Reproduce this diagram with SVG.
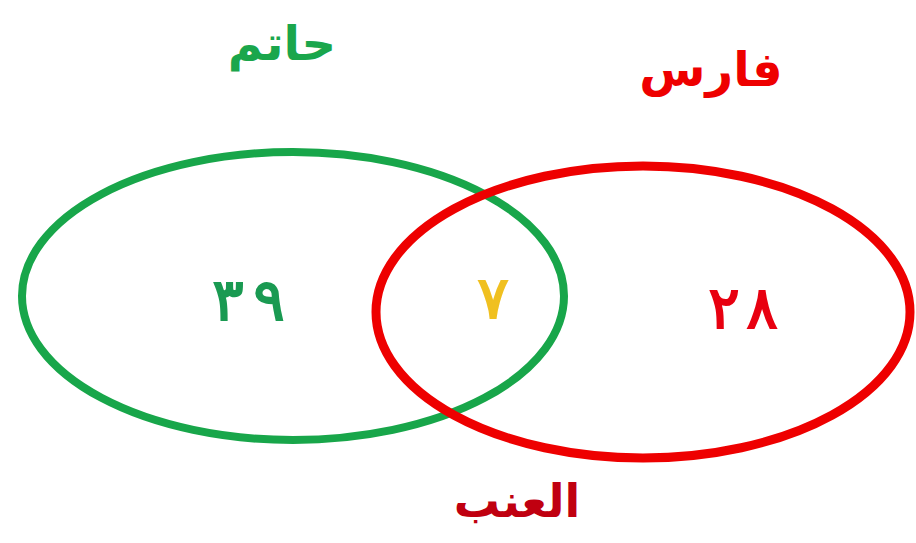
<svg xmlns="http://www.w3.org/2000/svg" width="916" height="543" viewBox="0 0 916 543">
<style>
.t{font-family:"DejaVu Sans","Noto Sans",sans-serif;font-weight:bold;text-anchor:middle}
.d{font-family:"DejaVu Sans","Noto Sans",sans-serif;font-weight:normal;text-anchor:middle;font-size:58px;stroke-width:2}
.set{fill:none}
</style>
<rect width="916" height="543" fill="#ffffff"/>
<g id="hatem">
<ellipse class="set" cx="293" cy="296" rx="271" ry="144" stroke="#18a64a" stroke-width="8"/>
<text class="t" x="282" y="60" font-size="48" fill="#1aa64c">حاتم</text>
<text class="d" x="228" y="320" fill="#1a9a52" stroke="#1a9a52">٣</text>
<text class="d" x="269" y="320" fill="#1a9a52" stroke="#1a9a52">٩</text>
</g>
<g id="fares">
<ellipse class="set" cx="643" cy="312" rx="267" ry="146" stroke="#ee0000" stroke-width="9"/>
<text class="t" x="711" y="86" font-size="48" fill="#ee0000">فارس</text>
<text class="d" x="724" y="328" fill="#e80010" stroke="#e80010">٢</text>
<text class="d" x="762" y="328" fill="#e80010" stroke="#e80010">٨</text>
</g>
<g id="intersection">
<text class="d" x="493" y="318" fill="#f0c020" stroke="#f0c020">٧</text>
</g>
<g id="label-grapes">
<text class="t" x="517" y="517" font-size="46" fill="#c00010">العنب</text>
</g>
<g id="connectors"></g>
</svg>
